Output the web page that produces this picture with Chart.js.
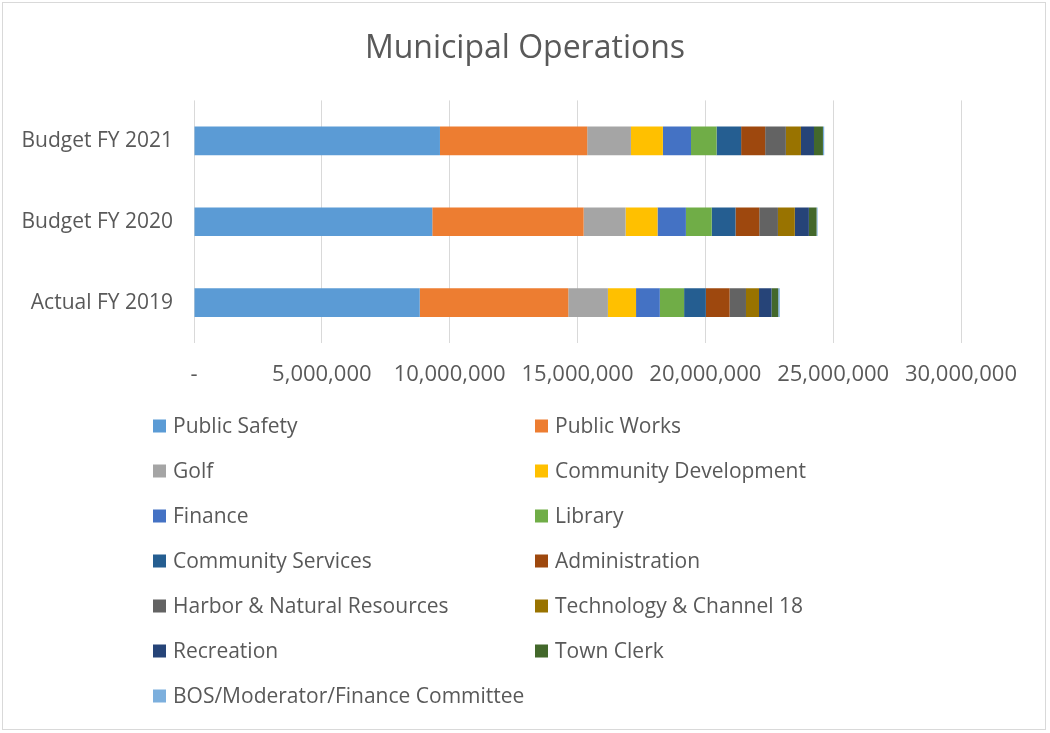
<!DOCTYPE html>
<html>
<head>
<meta charset="utf-8">
<title>Municipal Operations</title>
<script src="https://cdn.jsdelivr.net/npm/chart.js@4.4.1/dist/chart.umd.min.js"></script>
<style>
    html, body { margin: 0; padding: 0; background: #fff; }
    .frame {
        position: absolute;
        left: 2px; top: 2px;
        width: 1044px; height: 728px;
        border: 1px solid #d9d9d9;
        box-sizing: border-box;
    }
    #chart-wrap { position: absolute; left: 0; top: 0; width: 1050px; height: 733px; }
</style>
</head>
<body>
<div class="frame"></div>
<div id="chart-wrap"><canvas id="ops-chart"></canvas></div>
<script>
const years = ['Budget FY 2021', 'Budget FY 2020', 'Actual FY 2019'];

const departments = [
    'Public Safety', 'Public Works', 'Golf', 'Community Development',
    'Finance', 'Library', 'Community Services', 'Administration',
    'Harbor & Natural Resources', 'Technology & Channel 18', 'Recreation',
    'Town Clerk', 'BOS/Moderator/Finance Committee'
];

const deptColors = [
    '#5B9BD5', '#ED7D31', '#A5A5A5', '#FFC000',
    '#4472C4', '#70AD47', '#255E91', '#9E480E',
    '#636363', '#997300', '#264478', '#43682B', '#7CAFDD'
];

// spending per department, in the same order as years
const publicSafety   = [9620000, 9320000, 8830000];
const publicWorks    = [5760000, 5920000, 5810000];
const golf           = [1710000, 1640000, 1550000];
const communityDev   = [1250000, 1250000, 1100000];
const finance        = [1100000, 1110000, 930000];
const library        = [1000000, 1010000, 950000];
const communitySvc   = [960000, 930000, 850000];
const administration = [940000, 930000, 930000];
const harbor         = [810000, 730000, 640000];
const technology     = [590000, 660000, 510000];
const recreation     = [510000, 550000, 490000];
const townClerk      = [350000, 300000, 260000];
const bosCommittee   = [50000, 40000, 60000];

const seriesValues = [
    publicSafety, publicWorks, golf, communityDev, finance, library,
    communitySvc, administration, harbor, technology, recreation,
    townClerk, bosCommittee
];

const xTicks = [0, 5000000, 10000000, 15000000, 20000000, 25000000, 30000000];

const textColor = '#595959';
const gridColor = '#d9d9d9';
const fontFamily = "'Open Sans', 'Noto Sans', sans-serif";

// two-column legend under the plot, drawn on the canvas
const gridLegend = {
    id: 'gridLegend',
    afterDraw(chart) {
        const ctx = chart.ctx;
        const cols = [153, 535];
        const top = 426;
        const rowGap = 45;
        const box = 13;
        ctx.save();
        ctx.font = '21px ' + fontFamily;
        ctx.textBaseline = 'middle';
        ctx.textAlign = 'left';
        chart.data.datasets.forEach((ds, i) => {
            const x = cols[i % 2];
            const y = top + Math.floor(i / 2) * rowGap;
            ctx.fillStyle = ds.backgroundColor;
            ctx.fillRect(x, y - box / 2, box, box);
            ctx.fillStyle = textColor;
            ctx.fillText(ds.label, x + box + 7, y + 1);
        });
        ctx.restore();
    }
};

const ctx = document.getElementById('ops-chart').getContext('2d');

new Chart(ctx, {
    type: 'bar',
    data: {
        labels: years,
        datasets: departments.map((name, i) => ({
            label: name,
            data: seriesValues[i],
            backgroundColor: deptColors[i],
            borderWidth: 0,
            barPercentage: 0.59,
            categoryPercentage: 0.6
        }))
    },
    options: {
        indexAxis: 'y',
        responsive: true,
        maintainAspectRatio: false,
        animation: false,
        layout: {
            padding: { left: 18, right: 18, top: 0, bottom: 340 }
        },
        plugins: {
            legend: { display: false },
            tooltip: { enabled: false },
            title: {
                display: true,
                text: 'Municipal Operations',
                color: textColor,
                font: { family: fontFamily, size: 32, weight: 'normal', lineHeight: 1.2 },
                padding: { top: 30, bottom: 32 }
            }
        },
        scales: {
            x: {
                stacked: true,
                min: 0,
                max: 30000000,
                afterBuildTicks(axis) {
                    axis.ticks = xTicks.map(v => ({ value: v }));
                },
                afterFit(axis) {
                    axis.height = 50;
                    // keep room on the right for the last tick label
                    axis.paddingRight = 89;
                },
                grid: { color: gridColor, lineWidth: 1, drawTicks: false },
                border: { display: false },
                ticks: {
                    color: textColor,
                    padding: 19,
                    maxRotation: 0,
                    font: { family: fontFamily, size: 22 },
                    callback: (v) => v === 0 ? '-' : v.toLocaleString('en-US')
                }
            },
            y: {
                stacked: true,
                afterFit(axis) {
                    axis.width = 176;
                },
                grid: { display: false, drawTicks: false },
                border: { display: false },
                ticks: {
                    color: textColor,
                    padding: 21,
                    font: { family: fontFamily, size: 21 }
                }
            }
        }
    },
    plugins: [gridLegend]
});
</script>
</body>
</html>
